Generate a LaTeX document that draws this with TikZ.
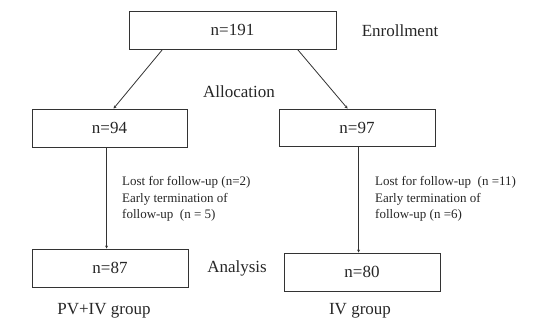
\documentclass[tikz,border=0pt]{standalone}
\usepackage{fontspec}
\setmainfont{Liberation Serif}
\usetikzlibrary{calc,arrows.meta}
\begin{document}
\begin{tikzpicture}[x=1pt,y=-1pt,
  box/.style={draw=black!80,line width=0.9pt,minimum width=156pt,minimum height=38pt,inner sep=0pt,font=\fontsize{17}{20}\selectfont,text=black!85},
  lbl/.style={font=\fontsize{17}{20}\selectfont,text=black!85,inner sep=0pt},
  note/.style={font=\fontsize{13}{16.5}\selectfont,text=black!85,align=left,anchor=west,inner sep=0pt},
  conn/.style={draw=black!80,line width=0.8pt,-{Stealth[length=3pt,width=3pt]}}]
\useasboundingbox (0,0) rectangle (547,320);
\node[box,minimum width=207pt] (top) at (232.5,30) {n=191};
\node[box,minimum width=155pt] (b94) at (109.5,128) {n=94};
\node[box,minimum height=37pt] (b97) at (357,127.5) {n=97};
\node[box] (b87) at (110,268) {n=87};
\node[box] (b80) at (362,272) {n=80};
\node[lbl] (enr) at (400,31) {Enrollment};
\node[lbl] (alloc) at (239,92) {Allocation};
\node[lbl] (ana) at (237,268) {Analysis};
\node[lbl] (g1) at (104,311) {PV+IV group};
\node[lbl] (g2) at (360,311) {IV group};
\node[note] (n1) at (122,199) {Lost for follow-up (n=2)\\Early termination of\\follow-up~ (n = 5)};
\node[note] (n2) at (375,199) {Lost for follow-up~ (n =11)\\Early termination of\\follow-up (n =6)};
\draw[conn] ($(top.south west)+(34,0)$) -- ($(b94.north west)+(82,0)$);
\draw[conn] ($(top.south west)+(169,0)$) -- ($(b97.north west)+(69,0)$);
\draw[conn] ($(b94.south west)+(75,0)$) -- ($(b87.north west)+(75,0)$);
\draw[conn] ($(b97.south west)+(80,0)$) -- ($(b80.north west)+(75,0)$);
\end{tikzpicture}
\end{document}
